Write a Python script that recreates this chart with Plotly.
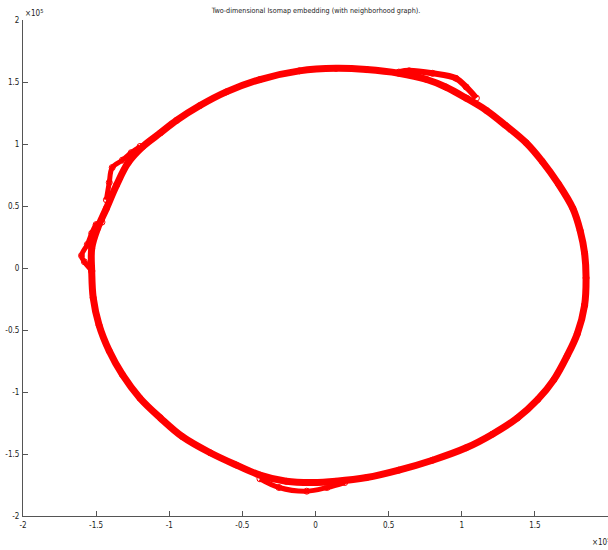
import plotly.graph_objects as go

# Embedding coordinates (units of 1e5), traced around the ring
ring_x = [1.84, 1.85, 1.84, 1.81, 1.76, 1.66, 1.55, 1.44, 1.30, 1.17, 1.03, 0.89, 0.76, 0.57,
          0.35, 0.14, -0.11, -0.38, -0.61, -0.79, -0.95, -1.06, -1.18, -1.28, -1.36, -1.43,
          -1.49, -1.53, -1.53, -1.52, -1.48, -1.41, -1.32, -1.20, -1.06, -0.91, -0.72, -0.54,
          -0.38, -0.20, -0.02, 0.14, 0.35, 0.57, 0.80, 1.03, 1.21, 1.38, 1.52, 1.63, 1.72,
          1.79, 1.84]
ring_y = [-0.30, -0.08, 0.12, 0.30, 0.48, 0.68, 0.86, 1.01, 1.15, 1.27, 1.37, 1.46, 1.52, 1.57,
          1.60, 1.61, 1.59, 1.52, 1.42, 1.31, 1.19, 1.09, 0.98, 0.85, 0.67, 0.48,
          0.32, 0.16, -0.03, -0.24, -0.46, -0.67, -0.86, -1.05, -1.21, -1.36, -1.49, -1.59,
          -1.67, -1.72, -1.73, -1.72, -1.69, -1.63, -1.55, -1.45, -1.34, -1.21, -1.06, -0.90, -0.71,
          -0.53, -0.30]

# Side strands (local folds of the embedding)
fold1_x = [-1.53, -1.58, -1.60, -1.56, -1.53, -1.50, -1.46]
fold1_y = [-0.02, 0.05, 0.10, 0.19, 0.28, 0.35, 0.37]
fold2_x = [-1.43, -1.41, -1.39, -1.32, -1.26, -1.20]
fold2_y = [0.55, 0.69, 0.81, 0.87, 0.93, 0.98]
fold3_x = [0.57, 0.64, 0.80, 0.96, 1.03, 1.10]
fold3_y = [1.58, 1.59, 1.57, 1.53, 1.46, 1.37]
fold4_x = [-0.38, -0.25, -0.06, 0.08, 0.20]
fold4_y = [-1.70, -1.77, -1.80, -1.77, -1.73]

x_ticks = [-2, -1.5, -1, -0.5, 0, 0.5, 1, 1.5, 2]
x_tick_labels = ["-2", "-1.5", "-1", "-0.5", "0", "0.5", "1", "1.5", "2"]
y_ticks = [-2, -1.5, -1, -0.5, 0, 0.5, 1, 1.5, 2]
y_tick_labels = ["-2", "-1.5", "-1", "-0.5", "0", "0.5", "1", "1.5", "2"]

RED = "#ff0000"
FONT = "Liberation Sans Narrow, DejaVu Sans Condensed, Liberation Sans, sans-serif"

fig = go.Figure()
for xs, ys, w in [(ring_x, ring_y, 7), (fold1_x, fold1_y, 5), (fold2_x, fold2_y, 5),
                  (fold3_x, fold3_y, 6), (fold4_x, fold4_y, 5)]:
    fig.add_trace(go.Scatter(
        x=xs, y=ys, mode="lines+markers",
        line=dict(color=RED, width=w, shape="spline", smoothing=1),
        marker=dict(symbol="circle-open", size=6, color=RED, line=dict(width=1, color=RED)),
        hoverinfo="skip", showlegend=False))

axis_common = dict(
    showgrid=False, zeroline=False, showline=True, linecolor="#555555", linewidth=1,
    ticks="inside", ticklen=5, tickcolor="#555555", tickwidth=1, automargin=False,
    tickfont=dict(family=FONT, size=8, color="#222222"), mirror=False,
)
fig.update_xaxes(range=[-2, 2], tickvals=x_ticks, ticktext=x_tick_labels,
                 ticklabelstandoff=1, **axis_common)
fig.update_yaxes(range=[-2, 2], tickvals=y_ticks, ticktext=y_tick_labels,
                 ticklabelstandoff=1, **axis_common)

fig.update_layout(
    width=608, height=550,
    margin=dict(l=23, r=0, t=20, b=34),
    paper_bgcolor="white", plot_bgcolor="white",
    title=dict(text="Two-dimensional Isomap embedding (with neighborhood graph).",
               x=316 / 608, xanchor="center", y=1 - 10 / 550, yanchor="middle",
               font=dict(family=FONT, size=7.2, color="#222222")),
    annotations=[
        dict(text="×10<sup>5</sup>", xref="paper", yref="paper", x=0, y=1, xanchor="left",
             yanchor="bottom", yshift=0, showarrow=False,
             font=dict(family=FONT, size=8, color="#222222")),
        dict(text="×10<sup>5</sup>", xref="paper", yref="paper", x=0.969, y=0, xanchor="left",
             yanchor="middle", yshift=-26, showarrow=False,
             font=dict(family=FONT, size=8, color="#222222")),
    ],
)

fig.write_html("out.html", config={"displayModeBar": False},
               post_script="document.body.style.margin='0';document.body.style.overflow='hidden';")
